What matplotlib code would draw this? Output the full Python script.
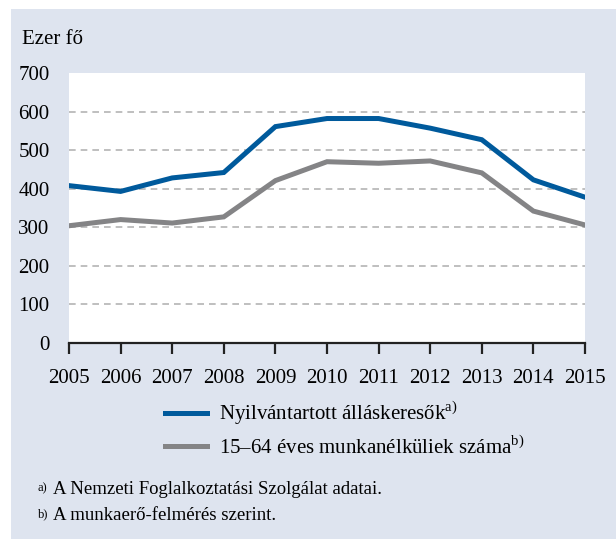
import numpy as np
import matplotlib.pyplot as plt
from matplotlib.patches import Rectangle

# data (thousand persons)
years = np.arange(2005, 2016)
registered = [408, 393, 428, 442, 561, 582, 582, 557, 527, 423, 378]
unemployed = [304, 320, 311, 327, 421, 470, 466, 472, 441, 342, 306]
yticks = [0, 100, 200, 300, 400, 500, 600, 700]
label_a = r"Nyilvántartott álláskeresők$^{\mathrm{a)}}$"
label_b = r"15–64 éves munkanélküliek száma$^{\mathrm{b)}}$"
note_a = "A Nemzeti Foglalkoztatási Szolgálat adatai."
note_b = "A munkaerő-felmérés szerint."

plt.rcParams['font.family'] = ['Liberation Serif', 'DejaVu Serif']
plt.rcParams['mathtext.fontset'] = 'custom'
plt.rcParams['mathtext.rm'] = 'Liberation Serif'

bg = '#dee4ef'
blue = '#005a9c'
grey = '#848486'

fig = plt.figure(figsize=(6.16, 5.39), dpi=100, facecolor='white')
# panel background, white strip on top and left
fig.patches.append(Rectangle((11/616, 0), 1, 1 - 9/539, transform=fig.transFigure,
                             facecolor=bg, edgecolor='none', zorder=-10))

ax = fig.add_axes([69/616, 1 - 343/539, (585 - 69)/616, (343 - 73)/539])
ax.set_facecolor('white')
ax.plot(years, registered, color=blue, lw=3.6, label=label_a, solid_joinstyle='miter')
ax.plot(years, unemployed, color=grey, lw=3.6, label=label_b, solid_joinstyle='miter')

ax.set_xlim(2005, 2015)
ax.set_ylim(0, 700)
ax.set_yticks(yticks)
ax.set_xticks(years)
for v in yticks[1:-1]:
    ax.axhline(v, color='#b4b4b4', lw=1.2, ls=(0, (4, 3)), zorder=0)

for s in ['top', 'right', 'left']:
    ax.spines[s].set_visible(False)
ax.spines['bottom'].set_linewidth(1.6)
ax.spines['bottom'].set_color('#222222')
ax.tick_params(axis='y', length=0, pad=14, labelsize=15)
ax.tick_params(axis='x', direction='out', length=8, width=1.6, color='#222222', pad=11, labelsize=15)

fig.text(22/616, 1 - 40/539, "Ezer fő", fontsize=15, va='center', ha='left')

ax.legend(loc='upper left', bbox_to_anchor=(165/616, 1 - 399/539), bbox_transform=fig.transFigure,
          frameon=False, fontsize=15, handlelength=2.0, handletextpad=0.6, labelspacing=0.42,
          borderaxespad=0, borderpad=0)

fig.text(38/616, 1 - 488/539, "a)", fontsize=9, va='center')
fig.text(53/616, 1 - 490/539, note_a, fontsize=13.5, va='center')
fig.text(38/616, 1 - 514/539, "b)", fontsize=9, va='center')
fig.text(53/616, 1 - 516/539, note_b, fontsize=13.5, va='center')

fig.savefig('out.png', dpi=100, facecolor=fig.get_facecolor())
